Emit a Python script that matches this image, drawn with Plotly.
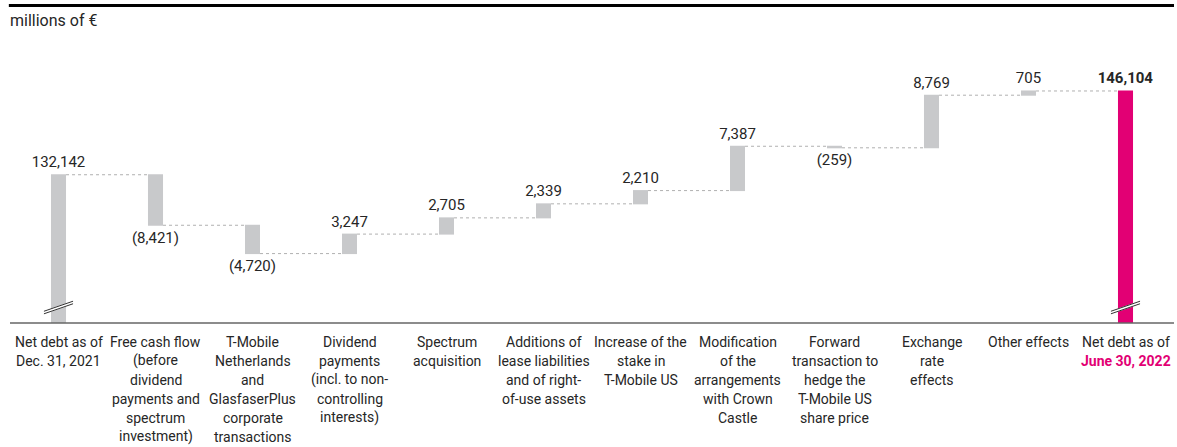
import plotly.graph_objects as go

categories = [
    "Net debt as of<br>Dec. 31, 2021",
    "Free cash flow<br>(before<br>dividend<br>payments and<br>spectrum<br>investment)",
    "T-Mobile<br>Netherlands<br>and<br>GlasfaserPlus<br>corporate<br>transactions",
    "Dividend<br>payments<br>(incl. to non-<br>controlling<br>interests)",
    "Spectrum<br>acquisition",
    "Additions of<br>lease liabilities<br>and of right-<br>of-use assets",
    "Increase of the<br>stake in<br>T-Mobile US",
    "Modification<br>of the<br>arrangements<br>with Crown<br>Castle",
    "Forward<br>transaction to<br>hedge the<br>T-Mobile US<br>share price",
    "Exchange<br>rate<br>effects",
    "Other effects",
    "Net debt as of<br><span style='color:#e20074'><b>June 30, 2022</b></span>",
]
values = [132142, -8421, -4720, 3247, 2705, 2339, 2210, 7387, -259, 8769, 705, 146104]
measures = ["relative"] + ["relative"] * 10 + ["total"]
y_range = [107430, 154600]

GRAY = "#c8c9cb"
MAGENTA = "#e20074"
TEXT = "#262626"
FONT = "Roboto"

def fmt(v, i):
    if i == len(values) - 1:
        return "<b>{:,}</b>".format(v)
    if v < 0:
        return "({:,})".format(abs(v))
    return "{:,}".format(v)

texts = [fmt(v, i) for i, v in enumerate(values)]
xs = list(range(len(categories)))
bar_w = 0.155

fig = go.Figure(go.Waterfall(
    x=xs,
    y=values,
    measure=measures,
    text=texts,
    textposition="outside",
    constraintext="none",
    textfont=dict(family=FONT, size=15, color=TEXT),
    increasing=dict(marker=dict(color=GRAY)),
    decreasing=dict(marker=dict(color=GRAY)),
    totals=dict(marker=dict(color=MAGENTA)),
    connector=dict(line=dict(color="#b0b0b0", width=1, dash="dot")),
    width=[bar_w] * len(categories),
    cliponaxis=False,
    hoverinfo="skip",
))

# category labels, one annotation per line for exact line spacing
for i, cat in enumerate(categories):
    for k, line in enumerate(cat.split("<br>")):
        fig.add_annotation(
            x=i, y=0, xref="x", yref="paper",
            text=line, showarrow=False,
            xanchor="center", yanchor="middle",
            yshift=-(18.5 + 19 * k),
            font=dict(family=FONT, size=14, color=TEXT),
        )

fig.add_annotation(
    x=0, y=1, xref="paper", yref="paper", text="millions of €",
    showarrow=False, xanchor="left", yanchor="middle", yshift=20, xshift=-2,
    font=dict(family=FONT, size=16, color=TEXT),
)

PLOT_H = 283
shapes = [
    # top rule
    dict(type="line", xref="paper", yref="paper", x0=-0.001, x1=1.0,
         y0=1.0 + 34.5 / PLOT_H, y1=1.0 + 34.5 / PLOT_H,
         line=dict(color="black", width=3)),
    # baseline
    dict(type="line", xref="paper", yref="paper", x0=0, x1=1, y0=0, y1=0,
         line=dict(color="#666666", width=1.5), layer="above"),
]
# axis break marks on first and last bar
for idx in (0, len(categories) - 1):
    x0, x1 = idx - 0.15, idx + 0.15
    shapes.append(dict(type="line", xref="x", yref="paper", x0=x0, x1=x1,
                       y0=0.037, y1=0.0725, line=dict(color="white", width=3)))
    shapes.append(dict(type="line", xref="x", yref="paper", x0=x0, x1=x1,
                       y0=0.0415, y1=0.077, line=dict(color="#333333", width=1)))
    shapes.append(dict(type="line", xref="x", yref="paper", x0=x0, x1=x1,
                       y0=0.0325, y1=0.068, line=dict(color="#333333", width=1)))
fig.update_layout(shapes=shapes)

fig.update_layout(
    width=1177, height=447,
    margin=dict(l=10, r=3, t=40, b=124),
    paper_bgcolor="white", plot_bgcolor="white",
    showlegend=False,
    font=dict(family=FONT, color=TEXT),
    xaxis=dict(range=[-0.5, len(categories) - 0.5], showticklabels=False,
               showgrid=False, zeroline=False, showline=False, ticks=""),
    yaxis=dict(range=y_range, visible=False, showgrid=False, zeroline=False),
)

fig.write_html("out.html", config={"displayModeBar": False},
               post_script="document.body.style.margin='0';")
